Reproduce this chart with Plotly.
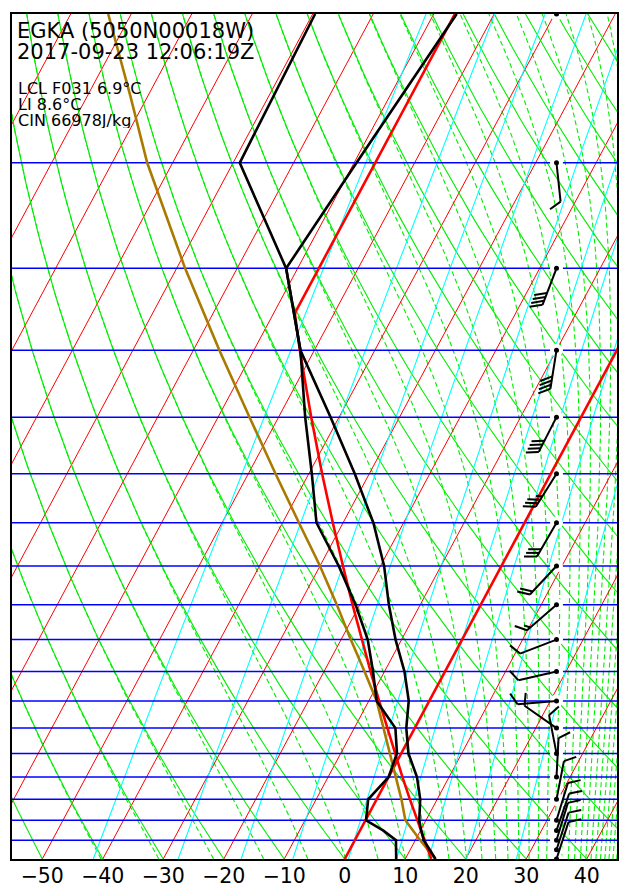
import numpy as np
import plotly.graph_objects as go

# ---------------- data ----------------
isobar_levels = [950, 900, 850, 800, 750, 700, 650, 600, 550, 500, 450, 400, 350, 300, 250, 200, 150]

env_p = [1000, 975, 950, 925, 900, 850, 800, 750, 700, 650, 600, 550, 500, 450, 400, 350, 300, 250, 200, 150, 100]
env_t = [15.0, 13.2, 11.4, 10.1, 8.9, 7.2, 4.7, 1.2, -1.4, -3.4, -6.7, -11.0, -15.2, -19.4, -25.0, -32.4, -41.4, -52.3, -61.9, -59.6, -56.2]
env_td = [8.5, 7.7, 6.8, 3.8, 0.1, -1.4, 0.0, -0.7, -3.2, -8.7, -11.9, -15.6, -20.7, -26.9, -34.4, -39.5, -45.6, -52.3, -61.9, -78.9, -79.6]

parcel_p = [1000, 950, 900, 850, 800, 750, 700, 650, 600, 550, 500, 450, 400, 350, 300, 250, 200, 175, 150, 125, 100]
parcel_t = [15.0, 10.8, 6.6, 4.1, 1.2, -1.9, -5.1, -8.7, -13.3, -18.4, -23.8, -30.0, -37.3, -45.5, -54.8, -65.7, -78.6, -85.8, -94.2, -102.9, -113.8]

isa_p = [1000, 950, 900, 850, 800, 750, 700, 650, 600, 550, 500, 450, 400, 350, 300, 250, 226, 200, 150, 100]
isa_t = [14.3, 11.5, 8.6, 5.5, 2.3, -1.0, -4.6, -8.3, -12.3, -16.6, -21.2, -26.2, -31.7, -37.8, -44.6, -52.4, -56.5, -56.5, -56.5, -56.5]

wind_p = [1000, 975, 950, 925, 900, 850, 800, 750, 700, 650, 600, 550, 500, 450, 400, 350, 300, 250, 200, 150, 100]
wind_dir = [18, 18, 17, 19, 17, 11, 3, 349, 305, 265, 257, 249, 229, 223, 210, 212, 207, 189, 201, 174, 0]
wind_kt = [10, 10, 10, 10, 10, 10, 10, 10, 10, 10, 10, 10, 15, 20, 30, 35, 40, 40, 40, 10, 0]

x_ticks = [-50, -40, -30, -20, -10, 0, 10, 20, 30, 40]

title_line1 = "EGKA (5050N00018W)"
title_line2 = "2017-09-23 12:06:19Z"
info_lines = ["LCL F031 6.9°C", "LI 8.6°C", "CIN 66978J/kg"]

# background line families
isotherm_values = list(range(-130, 50, 10))
dry_adiabat_values = list(range(-60, 260, 10))          # temperature at 1000 hPa, degC
moist_thetae_values = [233.15 + 10 * k for k in range(38)]  # K
mixing_ratio_values = [0.1, 0.4, 1, 2, 4, 7, 10, 15, 25]   # g/kg

# ---------------- chart geometry ----------------
W_FIG, H_FIG = 627, 888
PAGE_OFF = 8                      # default page margin of the html body
ML, MT = 12 - PAGE_OFF, 14 - PAGE_OFF
PW, PH = 605, 845
MR, MB = W_FIG - ML - PW, H_FIG - MT - PH
X_MIN, X_MAX = -55, 45
P_BOT, P_TOP = 1000, 100
SKEW = 74.7
KAPPA = 0.288
BARB_X = 35.0


def skew_x(t, p):
    return np.asarray(t, float) + SKEW * np.log10(P_BOT / np.asarray(p, float))


def joined(list_of_xy):
    xs, ys = [], []
    for x, y in list_of_xy:
        xs.extend(list(x) + [None])
        ys.extend(list(y) + [None])
    return xs, ys


p_grid = np.logspace(np.log10(1000), np.log10(100), 90)

iso = [(skew_x([t, t], [1000, 100]), [1000, 100]) for t in isotherm_values]
dry = []
for t0 in dry_adiabat_values:
    th = t0 + 273.15
    tt = th * (p_grid / 1000.0) ** KAPPA - 273.15
    dry.append((skew_x(tt, p_grid), p_grid))


def es(tc):
    return 6.112 * np.exp(17.67 * tc / (tc + 243.5))


def theta_e(tk, p):
    e = es(tk - 273.15)
    denom = np.maximum(p - e, 1e-6)
    rs = 0.622 * e / denom
    rs = np.where(p - e > 0, rs, 1e3)
    return tk * (1000.0 / p) ** KAPPA * np.exp(np.minimum(2.5e6 * rs / (1004.0 * tk), 50))


moist = []
for te in moist_thetae_values:
    lo = np.full_like(p_grid, 120.0)
    hi = np.full_like(p_grid, 345.0)
    for _ in range(60):
        mid = 0.5 * (lo + hi)
        f = theta_e(mid, p_grid) > te
        hi = np.where(f, mid, hi)
        lo = np.where(f, lo, mid)
    tt = 0.5 * (lo + hi) - 273.15
    moist.append((skew_x(tt, p_grid), p_grid))

mix = []
for w in mixing_ratio_values:
    e = w * p_grid / (622.0 + w)
    ln = np.log(e / 6.112)
    td = 243.5 * ln / (17.67 - ln)
    mix.append((skew_x(td, p_grid), p_grid))

fig = go.Figure()


def add_lines(pairs, color, width, dash="solid"):
    xs, ys = joined(pairs)
    fig.add_trace(go.Scatter(x=xs, y=ys, mode="lines", hoverinfo="skip",
                             line=dict(color=color, width=width, dash=dash)))


GREEN = "#00ee00"
add_lines(moist, GREEN, 1.1, "5px,3px")
add_lines(iso, "#ff0000", 1)
add_lines(dry, GREEN, 1.1)
add_lines(mix, "#00ffff", 1.1)
add_lines([([X_MIN, X_MAX], [lv, lv]) for lv in isobar_levels], "#0000ff", 1.5)

# white halo under barb bases
fig.add_trace(go.Scatter(x=[BARB_X] * len(wind_p), y=wind_p, mode="markers", hoverinfo="skip",
                         marker=dict(color="white", size=13, line=dict(width=0))))

# highlighted 0 degC isotherm
add_lines([(skew_x([0, 0], [1000, 100]), [1000, 100])], "#ff0000", 2.6)

fig.add_trace(go.Scatter(x=skew_x(parcel_t, parcel_p), y=parcel_p, mode="lines",
                         line=dict(color="#a87b00", width=2.6), hoverinfo="skip"))
fig.add_trace(go.Scatter(x=skew_x(isa_t, isa_p), y=isa_p, mode="lines",
                         line=dict(color="#ff0000", width=2.6), hoverinfo="skip"))
fig.add_trace(go.Scatter(x=skew_x(env_td, env_p), y=env_p, mode="lines",
                         line=dict(color="black", width=2.6), hoverinfo="skip"))
fig.add_trace(go.Scatter(x=skew_x(env_t, env_p), y=env_p, mode="lines",
                         line=dict(color="black", width=2.6), hoverinfo="skip"))

# wind barbs (pixel geometry converted to data units)
XS = (X_MAX - X_MIN) / PW
STAFF, FEATHER, SPACING = 39.0, 13.0, 4.2
c60, s60 = np.cos(np.deg2rad(60)), np.sin(np.deg2rad(60))


def to_data(p, dx, dy):
    return BARB_X + dx * XS, p * 10 ** (-dy / PH)


bx, by = [], []
for p, d, spd in zip(wind_p, wind_dir, wind_kt):
    if spd <= 0:
        continue
    r = np.deg2rad(d)
    ux, uy = np.sin(r), np.cos(r)
    fx, fy = ux * c60 + uy * s60, -ux * s60 + uy * c60
    segs = [((0, 0), (ux * STAFF, uy * STAFF))]
    n_full = int(spd // 10)
    half = (spd % 10) >= 5
    pos = STAFF
    for _ in range(n_full):
        b = (ux * pos, uy * pos)
        segs.append((b, (b[0] + fx * FEATHER, b[1] + fy * FEATHER)))
        pos -= SPACING
    if half:
        if n_full == 0:
            pos -= SPACING
        b = (ux * pos, uy * pos)
        segs.append((b, (b[0] + fx * FEATHER / 2, b[1] + fy * FEATHER / 2)))
    for a, b in segs:
        x0, y0 = to_data(p, *a)
        x1, y1 = to_data(p, *b)
        bx += [x0, x1, None]
        by += [y0, y1, None]

fig.add_trace(go.Scatter(x=bx, y=by, mode="lines", hoverinfo="skip",
                         line=dict(color="black", width=2)))
fig.add_trace(go.Scatter(x=[BARB_X] * len(wind_p), y=wind_p, mode="markers", hoverinfo="skip",
                         marker=dict(color="black", size=5)))


# text (positions given in page pixels of the target picture)
def px_x(px):
    return (px - PAGE_OFF - ML) / PW


def px_y(py):
    return 1 - (py - PAGE_OFF - MT) / PH


FONT = "DejaVu Sans"
ann = [
    dict(text=title_line1, x=px_x(15.5), y=px_y(31.3), size=21, h=20),
    dict(text=title_line2, x=px_x(15.5), y=px_y(51.8), size=21, h=20),
]
for txt, yy in zip(info_lines, [88.1, 104.6, 120.8]):
    ann.append(dict(text=txt, x=px_x(16.5), y=px_y(yy), size=16, h=15))
for a in ann:
    fig.add_annotation(text=a["text"], x=a["x"], y=a["y"], xref="paper", yref="paper",
                       xanchor="left", yanchor="middle", showarrow=False, height=a["h"],
                       borderpad=0,
                       font=dict(family=FONT, size=a["size"], color="black"))

fig.update_layout(
    width=W_FIG, height=H_FIG,
    margin=dict(l=ML, r=MR, t=MT, b=MB, pad=0, autoexpand=False),
    paper_bgcolor="white", plot_bgcolor="white",
    showlegend=False,
    xaxis=dict(range=[X_MIN, X_MAX], showgrid=False, zeroline=False, automargin=False,
               tickmode="array", tickvals=x_ticks, ticks="", ticklabelstandoff=-3,
               tickfont=dict(family=FONT, size=20.5, color="black"),
               showline=True, mirror=True, linecolor="black", linewidth=2),
    yaxis=dict(type="log", range=[np.log10(P_BOT), np.log10(P_TOP)], showgrid=False,
               zeroline=False, showticklabels=False, ticks="", automargin=False,
               showline=True, mirror=True, linecolor="black", linewidth=2),
)

fig.write_html("out.html")
